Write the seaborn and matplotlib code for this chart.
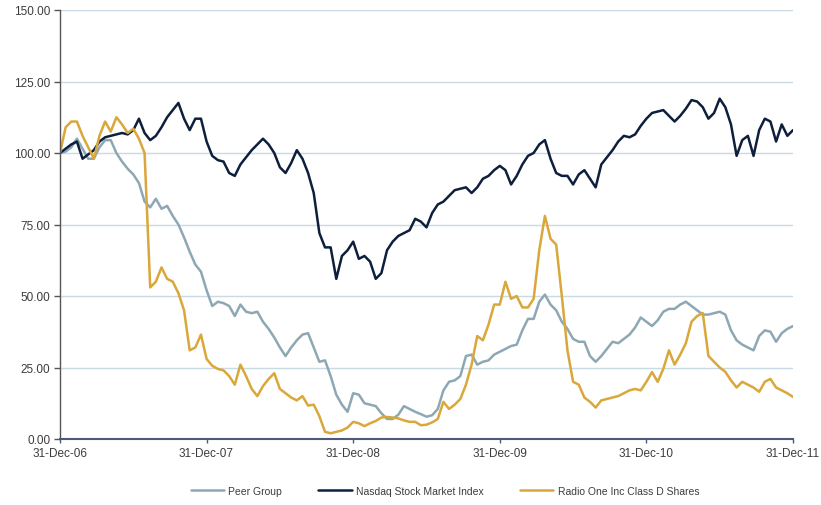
import matplotlib
matplotlib.use("Agg")
import matplotlib.pyplot as plt
from matplotlib.ticker import FuncFormatter
import numpy as np
import pandas as pd
import seaborn as sns

start_date = "2006-12-31"
end_date = "2011-12-31"
n_points = 131

peer_group = [
    100, 100.5, 102, 105, 101.5, 98, 98, 102, 104.5, 104.5,
    100, 97, 94.5, 92.5, 89.5, 83, 81, 84, 80.5, 81.5,
    78, 75, 70.5, 65.5, 61, 58.5, 52, 46.5, 48, 47.5,
    46.5, 43, 47, 44.5, 44, 44.5, 41, 38.5, 35.5, 32,
    29, 32, 34.5, 36.5, 37, 32, 27, 27.5, 22, 15.5,
    12, 9.5, 16, 15.5, 12.5, 12, 11.5, 9, 7, 7,
    8.5, 11.5, 10.5, 9.5, 8.7, 7.8, 8.3, 10.5, 17, 20,
    20.5, 22, 29, 29.5, 26, 27, 27.5, 29.5, 30.5, 31.5,
    32.5, 33, 38, 42, 42, 48, 50.5, 47, 45, 41,
    38.5, 35, 34, 34, 29, 27, 29, 31.5, 34, 33.5,
    35, 36.5, 39, 42.5, 41, 39.5, 41.5, 44.5, 45.5, 45.5,
    47, 48, 46.5, 45, 43.5, 43.5, 44, 44.5, 43.5, 38,
    34.5, 33, 32, 31, 36, 38, 37.5, 34, 37, 38.5,
    39.5,
]

nasdaq = [
    100, 101.5, 103, 104, 98, 99.5, 101, 104, 105.5, 106,
    106.5, 107, 106.5, 108, 112, 107, 104.5, 106, 109, 112.5,
    115, 117.5, 112, 108, 112, 112, 104, 99, 97.5, 97,
    93, 92, 96, 98.5, 101, 103, 105, 103, 100, 95,
    93, 96.5, 101, 98, 93, 86, 72, 67, 67, 56,
    64, 66, 69, 63, 64, 62, 56, 58, 66, 69,
    71, 72, 73, 77, 76, 74, 79, 82, 83, 85,
    87, 87.5, 88, 86, 88, 91, 92, 94, 95.5, 94,
    89, 92, 96, 99, 100, 103, 104.5, 98, 93, 92,
    92, 89, 92.5, 94, 91, 88, 96, 98.5, 101, 104,
    106, 105.5, 106.5, 109.5, 112, 114, 114.5, 115, 113, 111,
    113, 115.5, 118.5, 118, 116, 112, 114, 119, 116, 110,
    99, 104.5, 106, 99, 108, 112, 111, 104, 110, 106,
    108,
]

radio_one = [
    100, 109, 111, 111, 106, 102, 98, 106, 111, 107.5,
    112.5, 110, 107, 108.5, 105, 100, 53, 55, 60, 56,
    55, 51, 45, 31, 32, 36.5, 28, 25.6, 24.5, 24,
    22, 19, 26, 22, 17.5, 15, 18.5, 21, 23, 17.5,
    16, 14.5, 13.5, 15, 11.7, 12, 8, 2.5, 2, 2.5,
    3, 4, 6, 5.5, 4.5, 5.5, 6.3, 7.5, 7.7, 7.5,
    7.2, 6.5, 6, 6, 4.8, 5, 5.8, 7, 13, 10.5,
    12, 14, 19, 26, 36, 34.5, 40, 47, 47, 55,
    49, 50, 46, 46, 49, 66, 78, 70, 68, 50,
    31, 20, 19, 14.5, 13, 11, 13.5, 14, 14.5, 15,
    16, 17, 17.5, 17, 20, 23.4, 20, 24.5, 31, 26,
    29.5, 33.5, 41, 43, 44, 29, 27, 25, 23.5, 20.5,
    18, 20, 19, 18, 16.5, 20, 21, 18, 17, 16,
    14.7,
]

series_names = ["Peer Group", "Nasdaq Stock Market Index", "Radio One Inc Class D Shares"]
series_colors = ["#8DA8B4", "#0E1F3D", "#D9A73A"]

x_tick_dates = ["2006-12-31", "2007-12-31", "2008-12-31", "2009-12-31", "2010-12-31", "2011-12-31"]
x_tick_labels = ["31-Dec-06", "31-Dec-07", "31-Dec-08", "31-Dec-09", "31-Dec-10", "31-Dec-11"]
y_ticks = [0, 25, 50, 75, 100, 125, 150]

# ---- build long-form table ----
dates = pd.date_range(start_date, end_date, periods=n_points)
frames = []
for name, vals in zip(series_names, [peer_group, nasdaq, radio_one]):
    frames.append(pd.DataFrame({"date": dates, "value": vals, "series": name}))
df = pd.concat(frames, ignore_index=True)

# ---- plot ----
sns.set_theme(style="white")
plt.rcParams["font.family"] = ["Liberation Sans Narrow", "Liberation Sans", "DejaVu Sans"]

fig = plt.figure(figsize=(8.21, 5.06), dpi=100)
ax = fig.add_axes([60 / 821, 66 / 506, (793 - 60) / 821, (440 - 11) / 506])

sns.lineplot(
    data=df, x="date", y="value", hue="series",
    hue_order=series_names, palette=series_colors,
    linewidth=1.8, ax=ax, legend=True,
)

ax.set_xlim(pd.Timestamp(start_date), pd.Timestamp(end_date))
ax.set_ylim(0, 150)
ax.set_yticks(y_ticks)
ax.yaxis.set_major_formatter(FuncFormatter(lambda v, p: f"{v:.2f}"))
ax.set_xticks([pd.Timestamp(d) for d in x_tick_dates])
ax.set_xticklabels(x_tick_labels)
ax.set_xlabel("")
ax.set_ylabel("")

ax.grid(axis="y", color="#CADAE4", linewidth=1.0)
ax.grid(axis="x", visible=False)
ax.set_axisbelow(True)

for s in ["top", "right"]:
    ax.spines[s].set_visible(False)
ax.spines["left"].set_color("#555555")
ax.spines["left"].set_linewidth(1.0)
ax.spines["bottom"].set_color("#4A5A78")
ax.spines["bottom"].set_linewidth(1.5)

ax.tick_params(axis="y", which="major", direction="out", length=4, width=1,
               color="#555555", labelsize=8.5, labelcolor="#3C3C3C", pad=3, left=True)
ax.tick_params(axis="x", which="major", direction="out", length=3, width=1,
               color="#4A5A78", labelsize=8.5, labelcolor="#3C3C3C", pad=3, bottom=True)

# legend at the bottom
handles, labels = ax.get_legend_handles_labels()
ax.get_legend().remove()
fig.legend(handles, labels, loc="center", bbox_to_anchor=(445 / 821, 1 - 492 / 506),
           ncol=3, frameon=False, fontsize=7.5, handlelength=3.2, columnspacing=3.5,
           handletextpad=0.4, labelcolor="#3C3C3C")

fig.savefig("out.png", dpi=100)
